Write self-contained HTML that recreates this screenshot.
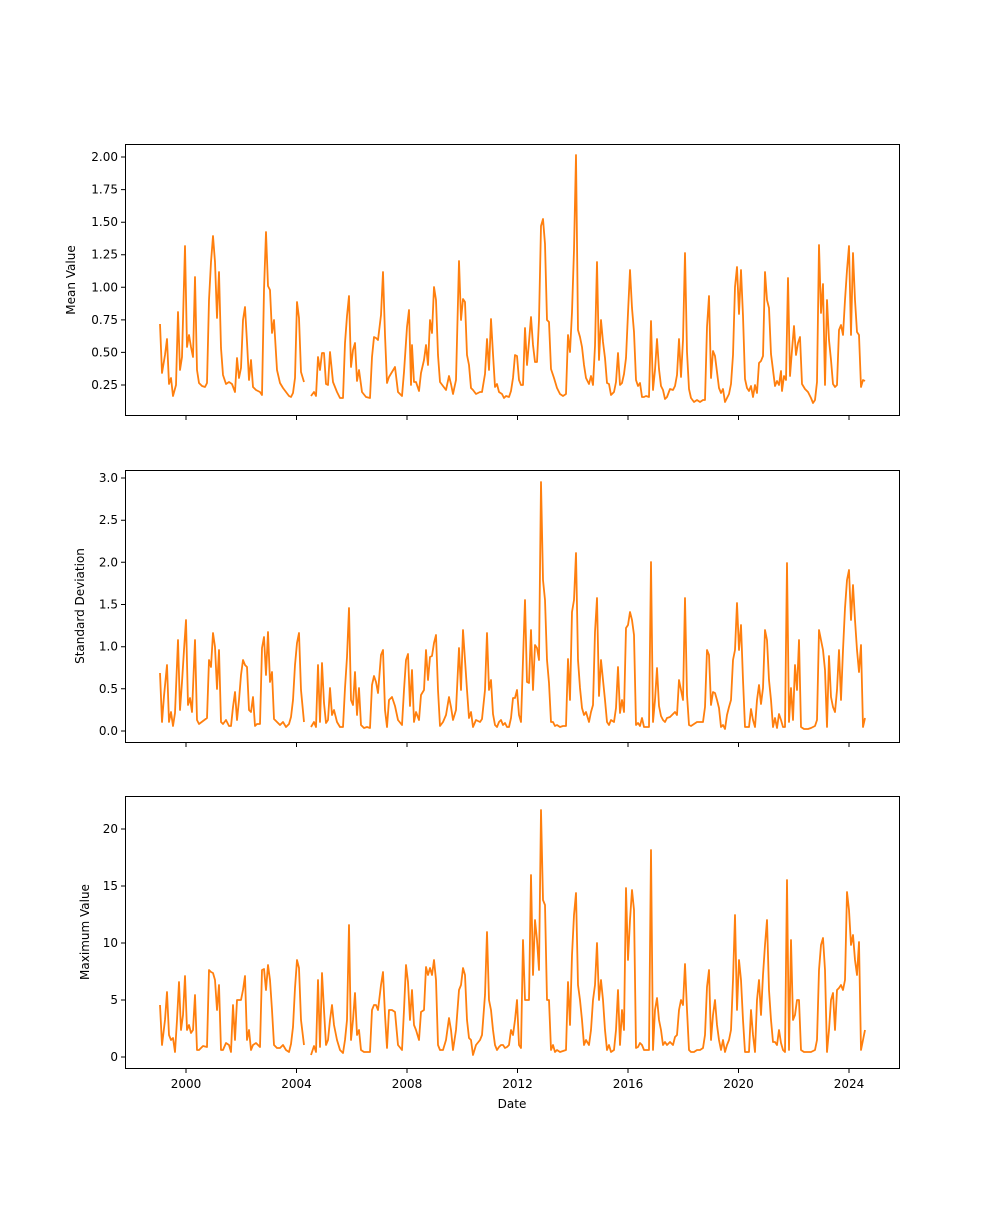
<!DOCTYPE html>
<html><head><meta charset="utf-8"><style>
body{margin:0;background:#fff}
svg text{font-family:"DejaVu Sans","Liberation Sans",sans-serif;font-size:12px;fill:#000}
.l{fill:none;stroke:#ff7f0e;stroke-width:1.8;stroke-linejoin:round}
.ax{fill:none;stroke:#000;stroke-width:1}
</style></head><body>
<svg width="1000" height="1200" viewBox="0 0 1000 1200" xmlns="http://www.w3.org/2000/svg">
<rect width="1000" height="1200" fill="#fff"/>
<!-- top -->
<polyline class="l" points="160,324 162,373 165,355 167,339 169,384 171,378 173,396 176,385 178,312 180,370 182,357 185,246 187,347 189,335 191,347 193,357 195,277 197,370 199,383 202,386 205,387 207,383 209,300 211,262 213,236 215,262 217,318 219,272 221,348 223,375 226,384 229,382 232,384 235,392 237,358 239,378 241,368 243,320 245,307 247,342 249,380 251,360 253,387 256,390 260,392 262,395 264,290 266,232 268,286 270,290 272,333 274,320 277,370 280,383 283,388 286,392 289,396 291,397 293,393 295,378 297,302 299,318 301,372 304,382"/>
<polyline class="l" points="311,396 314,392 316,396 318,357 320,370 322,353 324,353 326,384 328,385 330,352 333,382 337,392 340,398 343,398 345,343 347,316 349,296 351,367 353,350 355,343 357,381 359,370 362,392 366,397 370,398 372,357 374,337 376,338 378,340 381,315 383,272 385,335 387,383 389,377 392,372 395,367 398,392 402,396 404,372 407,327 409,310 411,385 412,345 414,382 416,382 419,391 421,373 424,360 426,345 428,365 430,320 432,333 434,287 436,300 438,355 440,382 443,386 446,390 449,376 451,384 453,394 456,380 459,261 461,320 463,299 465,302 467,355 469,365 471,388 473,390 476,394 480,392 482,392 485,374 487,339 489,370 491,319 493,354 495,387 497,384 499,392 502,394 504,398 506,396 509,397 511,391 513,378 515,355 517,356 519,380 521,385 523,385 525,328 527,365 529,342 531,317 533,345 535,362 537,362 539,320 541,226 543,219 545,244 547,320 549,322 551,369 554,378 557,388 560,394 563,396 566,394 568,335 570,352 572,312 574,250 576,155 578,330 580,337 582,347 584,365 586,378 589,384 591,376 593,385 595,346 597,262 599,360 601,320 603,342 605,358 607,383 609,384 611,395 614,392 616,382 618,353 620,385 622,383 624,374 626,358 628,313 630,270 632,308 634,332 636,380 638,386 640,383 642,397 644,397 646,396 649,397 651,321 653,390 655,370 657,339 659,369 661,386 663,390 665,399 667,397 670,389 673,390 675,386 677,375 679,339 681,377 683,340 685,253 687,352 689,389 691,398 694,402 697,400 700,402 703,400 705,400 707,327 709,296 711,378 713,351 715,356 717,372 719,388 721,393 723,389 725,402 727,398 729,394 731,384 733,355 735,287 737,267 739,314 741,270 743,316 745,379 747,388 749,391 751,386 753,397 755,385 757,393 759,363 761,361 763,356 765,272 767,300 769,308 771,354 773,370 775,386 777,381 779,385 781,371 782,391 784,376 786,380 788,278 790,376 792,350 794,326 796,355 798,343 800,337 802,384 805,389 808,392 811,398 813,403 815,400 817,382 819,245 821,313 823,284 825,385 827,300 829,340 831,360 833,384 835,387 837,385 839,330 841,325 843,335 845,300 847,270 849,246 851,335 853,253 855,300 857,332 859,335 861,387 863,380 865,381"/>
<!-- middle -->
<polyline class="l" points="160,673 162,722 164,696 167,665 169,722 171,712 173,726 175,713 178,640 180,710 182,682 184,650 186,620 188,705 190,698 192,712 195,640 197,720 199,724 203,721 207,718 209,660 211,667 213,633 215,647 217,689 219,650 221,722 223,724 226,720 229,726 231,726 233,707 235,692 237,720 239,700 241,675 243,660 245,665 247,667 249,710 251,712 253,697 255,726 257,724 260,724 262,648 264,637 266,675 268,632 270,682 272,672 274,719 277,722 280,725 283,722 286,727 289,724 291,717 293,700 295,665 297,643 299,633 301,690 304,722"/>
<polyline class="l" points="311,727 314,722 316,727 318,665 320,722 322,663 324,703 326,723 328,720 330,688 332,715 334,710 337,722 340,727 343,727 345,688 347,657 349,608 351,700 353,705 355,672 357,715 359,688 361,725 364,728 367,727 370,728 372,685 374,676 376,682 378,693 381,655 383,650 385,710 387,727 389,700 392,697 395,706 398,720 402,725 404,690 406,660 408,654 410,706 412,670 414,722 416,712 419,720 421,695 424,690 426,650 428,680 430,657 432,656 434,643 436,635 438,690 440,726 443,722 446,715 449,697 451,707 453,720 456,710 459,648 461,690 463,630 465,660 467,690 469,718 471,712 473,727 476,720 480,722 482,719 485,690 487,633 489,690 491,680 493,714 495,725 497,727 499,722 501,720 503,725 505,723 507,727 509,727 511,718 513,698 515,698 517,690 519,715 521,722 523,660 525,600 527,682 529,683 531,630 533,690 535,645 537,648 539,660 541,482 543,580 545,600 547,660 549,683 551,722 553,722 555,726 557,725 560,727 563,726 566,726 568,659 570,700 572,612 574,600 576,553 578,660 580,688 582,708 584,715 586,712 589,722 591,712 593,705 595,632 597,598 599,696 601,660 603,680 605,700 607,722 609,725 611,720 614,722 616,708 618,667 620,713 622,700 624,712 626,628 628,625 630,612 632,620 634,635 636,725 638,723 640,726 642,718 644,727 646,727 649,727 651,562 653,722 655,700 657,668 659,706 661,716 663,720 665,722 667,718 670,717 673,714 675,712 677,715 679,680 681,690 683,700 685,598 687,695 689,725 691,726 694,724 697,722 700,722 703,722 705,707 707,650 709,655 711,705 713,692 715,693 717,700 719,708 721,727 723,725 725,729 727,715 729,707 731,700 733,660 735,650 737,603 739,650 741,625 743,680 745,727 747,727 749,727 751,709 753,720 755,727 757,700 759,685 761,704 763,688 765,630 767,640 769,680 771,700 773,727 775,718 777,728 779,714 781,720 783,727 785,727 787,563 789,722 791,688 793,720 795,665 797,690 799,640 801,727 804,729 808,729 811,728 815,726 817,720 819,630 821,640 823,650 825,670 827,727 829,656 831,697 833,707 835,712 837,690 839,650 841,700 843,650 845,608 847,580 849,570 851,620 853,585 855,620 857,650 859,672 861,645 863,727 865,718"/>
<!-- bottom -->
<polyline class="l" points="160,1005 162,1045 165,1020 167,992 169,1035 171,1040 173,1038 175,1052 177,1020 179,982 181,1030 183,1015 185,976 187,1030 189,1025 191,1033 193,1030 195,995 197,1050 199,1050 203,1046 207,1047 209,970 211,972 213,973 215,980 217,1010 219,985 221,1050 223,1050 226,1043 229,1045 231,1052 233,1005 235,1040 237,1000 239,1000 241,1000 243,990 245,976 247,1040 249,1030 251,1050 253,1045 256,1043 260,1047 262,970 264,969 266,990 268,965 270,980 272,1010 274,1045 277,1048 280,1048 283,1045 286,1050 289,1052 291,1044 293,1027 295,988 297,960 299,968 301,1020 304,1045"/>
<polyline class="l" points="311,1055 314,1046 316,1052 318,980 320,1047 322,973 324,1010 326,1045 328,1040 330,1020 332,1005 334,1025 337,1040 340,1050 343,1053 345,1040 347,1020 349,925 351,1040 353,1020 355,993 357,1035 359,1030 361,1050 364,1052 367,1052 370,1052 372,1010 374,1005 376,1005 378,1010 381,985 383,972 385,1015 387,1048 389,1010 392,1010 395,1012 398,1045 402,1050 404,1010 406,965 408,982 410,1020 412,990 414,1025 416,1030 419,1040 421,1012 424,1010 426,967 428,975 430,968 432,975 434,960 436,980 438,1045 440,1050 443,1050 446,1040 449,1018 451,1030 453,1050 456,1030 459,990 461,985 463,968 465,975 467,1020 469,1038 471,1040 473,1055 476,1045 480,1040 482,1035 485,995 487,932 489,1000 491,1010 493,1030 495,1045 497,1050 499,1047 501,1045 503,1045 505,1048 507,1047 509,1045 511,1030 513,1035 515,1020 517,1000 519,1045 521,1048 523,940 525,1000 527,1000 529,1000 531,875 533,975 535,920 537,940 539,970 541,810 543,900 545,905 547,1000 549,1000 551,1050 553,1045 555,1052 557,1050 560,1052 563,1051 566,1050 568,982 570,1025 572,955 574,915 576,893 578,985 580,1000 582,1020 584,1045 586,1040 589,1045 591,1030 593,1000 595,985 597,943 599,1000 601,980 603,1000 605,1030 607,1050 609,1045 611,1052 614,1050 616,1030 618,990 620,1045 622,1010 624,1030 626,888 628,960 630,920 632,890 634,910 636,1048 638,1047 640,1043 642,1045 644,1050 646,1050 649,1050 651,850 653,1050 655,1010 657,998 659,1020 661,1030 663,1045 665,1042 667,1045 670,1042 673,1045 675,1037 677,1035 679,1010 681,1000 683,1005 685,964 687,1010 689,1050 691,1052 694,1052 697,1050 700,1050 703,1048 705,1035 707,987 709,970 711,1040 713,1015 715,1000 717,1025 719,1040 721,1050 723,1040 725,1052 727,1045 729,1040 731,1030 733,980 735,915 737,1010 739,960 741,980 743,1020 745,1052 747,1052 749,1052 751,1010 753,1035 755,1052 757,1000 759,980 761,1015 763,975 765,945 767,920 769,990 771,1020 773,1042 775,1042 777,1045 779,1030 781,1043 783,1050 785,1052 787,880 789,1050 791,940 793,1020 795,1015 797,1000 799,1000 801,1050 804,1052 808,1052 811,1052 815,1050 817,1040 819,970 821,945 823,938 825,970 827,1052 829,1030 831,1000 833,993 835,1030 837,990 839,988 841,985 843,990 845,980 847,892 849,910 851,945 853,935 855,960 857,975 859,942 861,1050 863,1040 865,1030"/>
<!-- axes frames -->
<rect class="ax" x="125.5" y="144.5" width="774" height="271"/>
<rect class="ax" x="125.5" y="470.5" width="774" height="272"/>
<rect class="ax" x="125.5" y="796.5" width="774" height="272"/>
<g stroke="#000" stroke-width="1">
<!-- x ticks -->
<path d="M186,416v4M296.5,416v4M407,416v4M517.5,416v4M628,416v4M738.5,416v4M849,416v4
M186,743v4M296.5,743v4M407,743v4M517.5,743v4M628,743v4M738.5,743v4M849,743v4
M186,1069v4M296.5,1069v4M407,1069v4M517.5,1069v4M628,1069v4M738.5,1069v4M849,1069v4"/>
<!-- y ticks -->
<path d="M125,385h-4M125,352.4h-4M125,319.9h-4M125,287.3h-4M125,254.7h-4M125,222.2h-4M125,189.6h-4M125,157h-4
M125,731h-4M125,688.8h-4M125,646.7h-4M125,604.5h-4M125,562.3h-4M125,520.2h-4M125,478h-4
M125,1057h-4M125,1000h-4M125,943h-4M125,886h-4M125,829h-4"/>
</g>
<g text-anchor="end">
<text x="118" y="389">0.25</text><text x="118" y="356.4">0.50</text><text x="118" y="323.9">0.75</text><text x="118" y="291.3">1.00</text><text x="118" y="258.7">1.25</text><text x="118" y="226.2">1.50</text><text x="118" y="193.6">1.75</text><text x="118" y="161">2.00</text>
<text x="118" y="735">0.0</text><text x="118" y="692.8">0.5</text><text x="118" y="650.7">1.0</text><text x="118" y="608.5">1.5</text><text x="118" y="566.3">2.0</text><text x="118" y="524.2">2.5</text><text x="118" y="482">3.0</text>
<text x="118" y="1061">0</text><text x="118" y="1004">5</text><text x="118" y="947">10</text><text x="118" y="890">15</text><text x="118" y="833">20</text>
</g>
<g text-anchor="middle">
<text x="186" y="1088">2000</text><text x="296.5" y="1088">2004</text><text x="407" y="1088">2008</text><text x="517.5" y="1088">2012</text><text x="628" y="1088">2016</text><text x="738.5" y="1088">2020</text><text x="849" y="1088">2024</text>
<text x="512" y="1108">Date</text>
<text transform="translate(75,280) rotate(-90)">Mean Value</text>
<text transform="translate(84,606) rotate(-90)">Standard Deviation</text>
<text transform="translate(89,932) rotate(-90)">Maximum Value</text>
</g>
</svg>
</body></html>
